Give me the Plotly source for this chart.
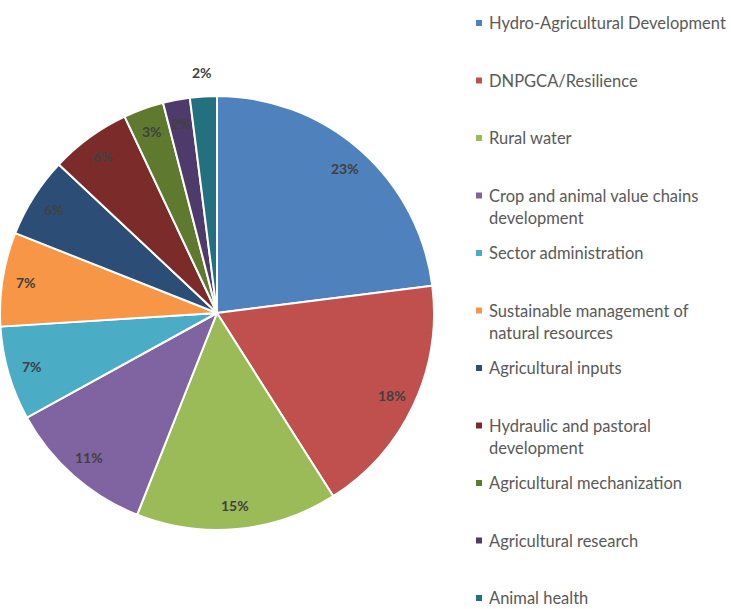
import math
import plotly.graph_objects as go

# Share of the sector budget by programme (percent)
categories = [
    "Hydro-Agricultural Development",
    "DNPGCA/Resilience",
    "Rural water",
    "Crop and animal value chains\ndevelopment",
    "Sector administration",
    "Sustainable management of\nnatural resources",
    "Agricultural inputs",
    "Hydraulic and pastoral\ndevelopment",
    "Agricultural mechanization",
    "Agricultural research",
    "Animal health",
]
shares = [23, 18, 15, 11, 7, 7, 6, 6, 3, 2, 2]
colors = [
    "#4F81BD", "#C0504D", "#9BBB59", "#8064A2", "#4BACC6", "#F79646",
    "#2C4D75", "#7B2C2A", "#5F7A2F", "#4E3B6B", "#23707F",
]
# which slices carry their label outside the rim
label_outside = [False] * 10 + [True]

W, H = 731, 609
CX, CY, R = 217, 313, 217  # pie centre and radius in pixels


def px_to_paper(x, y):
    return x / W, 1 - y / H


fig = go.Figure()
fig.add_trace(go.Pie(
    labels=[c.replace("\n", " ") for c in categories],
    values=shares,
    sort=False,
    direction="clockwise",
    rotation=0,
    marker=dict(colors=colors, line=dict(color="white", width=2)),
    textinfo="none",
    hovertemplate="%{label}: %{value}%<extra></extra>",
    showlegend=False,
    domain=dict(x=[(CX - R) / W, (CX + R) / W],
                y=[1 - (CY + R) / H, 1 - (CY - R) / H]),
))

annotations = []

# Percentage labels placed along each slice's mid-angle
total = sum(shares)
cum = 0
for v, out in zip(shares, label_outside):
    mid = (cum + v / 2) / total * 2 * math.pi
    cum += v
    rr = R * (1.11 if out else 0.89)
    x, y = px_to_paper(CX + rr * math.sin(mid), CY - rr * math.cos(mid))
    annotations.append(dict(
        x=x, y=y, xref="paper", yref="paper", showarrow=False,
        text=f"<b>{v}%</b>", xanchor="center", yanchor="middle",
        font=dict(family="Lato, Open Sans, sans-serif", size=14, color="#404040"),
    ))

# Legend: coloured squares with category names, one entry per slice
LEG_X, LEG_Y0, LEG_STEP, LINE_GAP = 487, 23, 57.5, 22
shapes = []
for i, (name, col) in enumerate(zip(categories, colors)):
    y0 = LEG_Y0 + i * LEG_STEP
    sx0, sy0 = px_to_paper(476, y0 - 3)
    sx1, sy1 = px_to_paper(482, y0 + 3)
    shapes.append(dict(type="rect", xref="paper", yref="paper",
                       x0=sx0, x1=sx1, y0=sy1, y1=sy0,
                       fillcolor=col, line=dict(width=0)))
    for j, line in enumerate(name.split("\n")):
        x, y = px_to_paper(LEG_X, y0 + j * LINE_GAP)
        annotations.append(dict(
            x=x, y=y, xref="paper", yref="paper", showarrow=False,
            text=line, xanchor="left", yanchor="middle",
            font=dict(family="Lato, Open Sans, sans-serif", size=16.5, color="#595959"),
        ))

fig.update_layout(
    width=W, height=H,
    margin=dict(l=0, r=0, t=0, b=0),
    paper_bgcolor="white", plot_bgcolor="white",
    annotations=annotations,
    shapes=shapes,
)

fig.write_html("out.html")
